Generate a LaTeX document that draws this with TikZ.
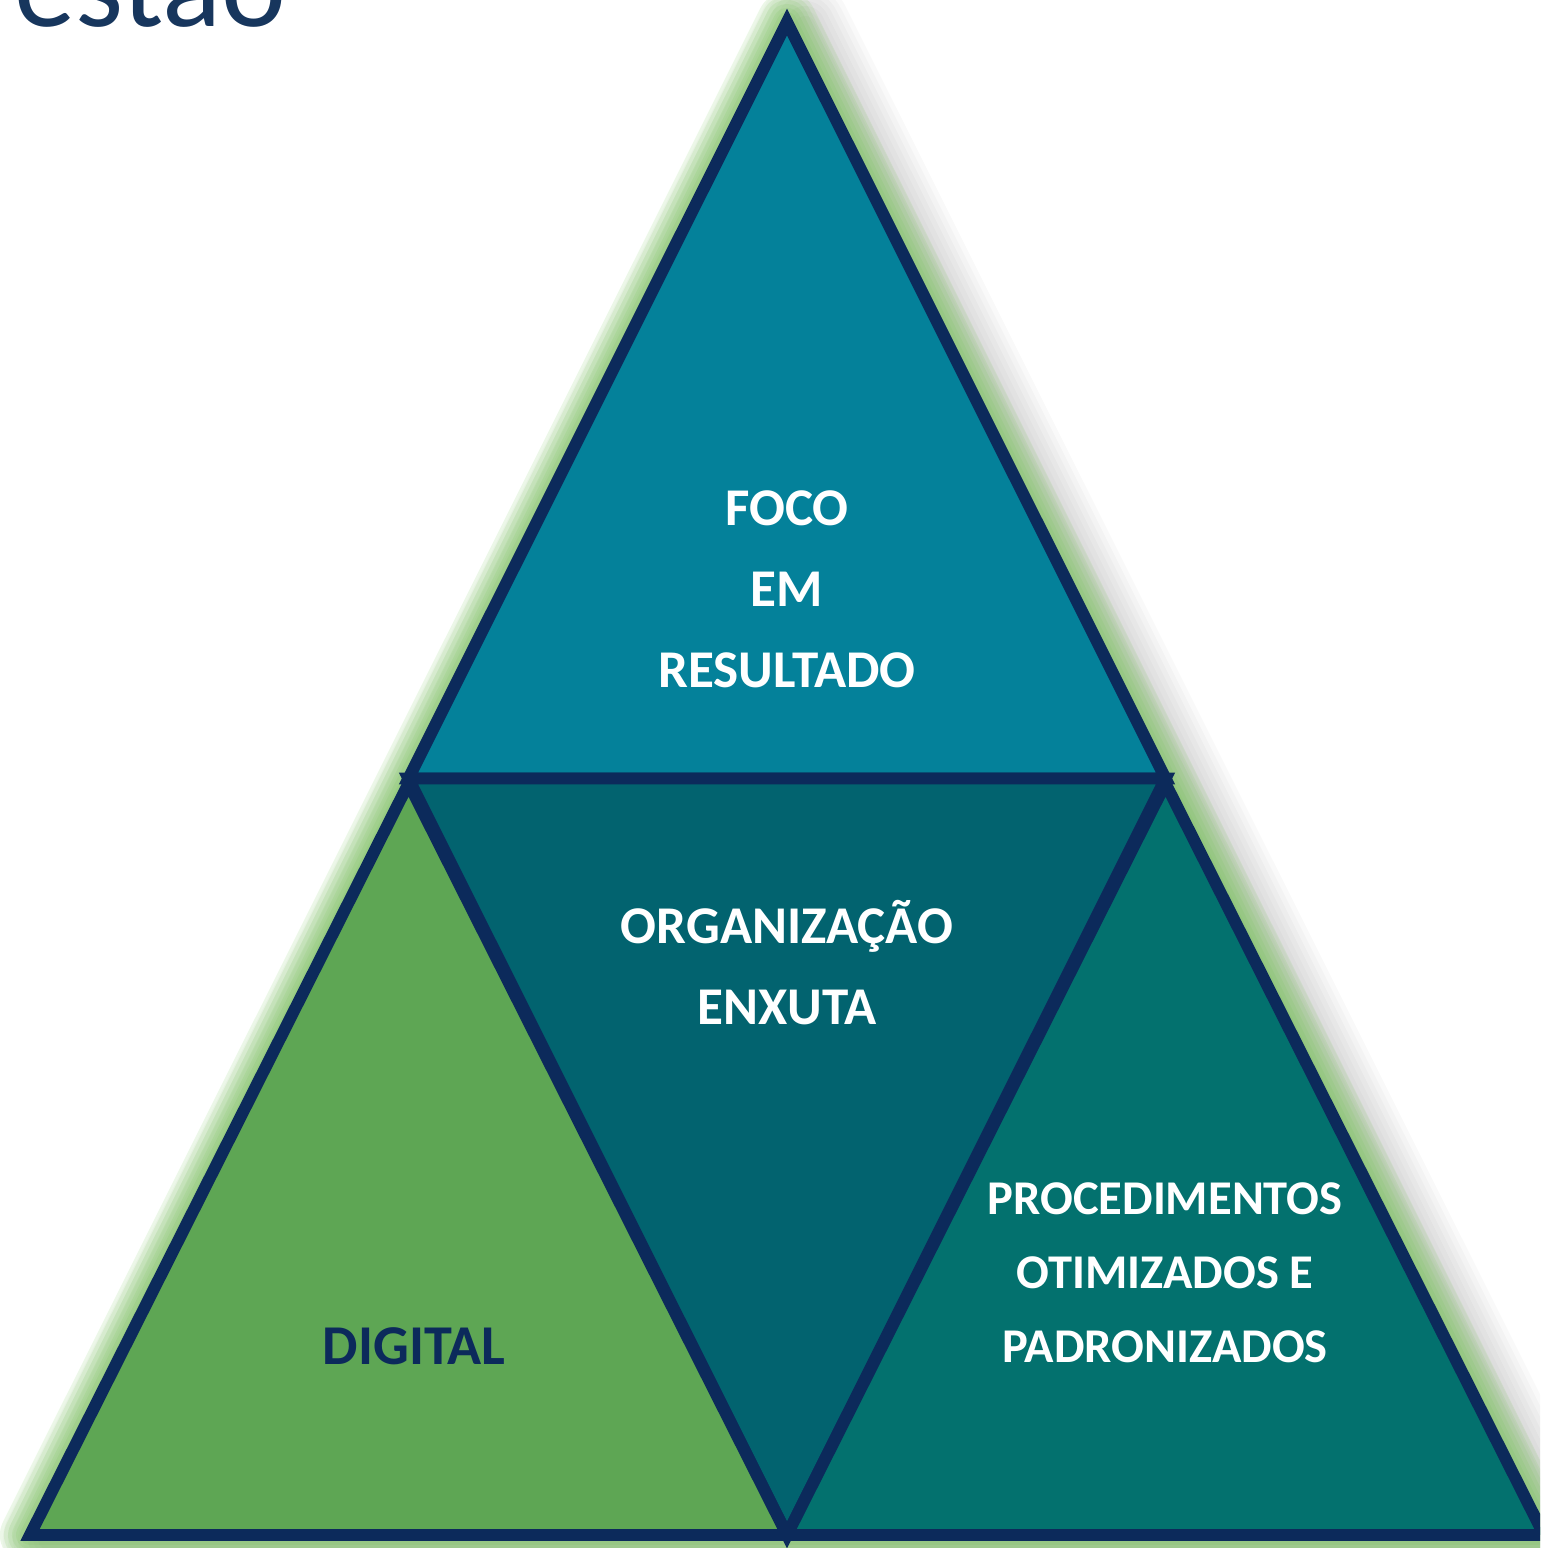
\documentclass[tikz,border=0pt]{standalone}
\usepackage{fontspec}
\setmainfont{Carlito}
\usetikzlibrary{calc}
\definecolor{navyline}{HTML}{0C2A5B}
\definecolor{titleblue}{HTML}{17365D}
\definecolor{topteal}{HTML}{04819A}
\definecolor{midteal}{HTML}{02636F}
\definecolor{rightteal}{HTML}{03716E}
\definecolor{leafgreen}{HTML}{5EA654}
\definecolor{glowgreen}{HTML}{6CC04A}
\tikzset{
  piece/.style={draw=navyline, line width=3.4pt, line join=miter},
  label/.style={font=\fontsize{15.1}{23}\selectfont\bfseries, text=white, align=center},
}
\begin{document}
\begin{tikzpicture}
  \useasboundingbox (0,0) rectangle (15.40,15.48);
  \clip (0,0) rectangle (15.40,15.48);
  % corners of the big triangle
  \coordinate (apex) at (7.87,15.26);
  \coordinate (bl) at (0.30,0.13);
  \coordinate (br) at (15.44,0.13);
  \coordinate (ml) at ($(apex)!0.5!(bl)$);
  \coordinate (mr) at ($(apex)!0.5!(br)$);
  \coordinate (bm) at ($(bl)!0.5!(br)$);
  % title, cut at the top
  \node[anchor=base west, inner sep=0pt, text=titleblue,
        font=\fontsize{35}{40}\selectfont] (title) at (0.14,15.21) {estão};
  % soft shadow and glow
  \foreach \w in {0.9,0.8,...,0.2} {
    \draw[black, opacity=0.025, line width=\w cm, line join=round]
      ([xshift=0.18cm,yshift=-0.04cm]apex) -- ([xshift=0.18cm,yshift=-0.04cm]br)
      -- ([xshift=0.18cm,yshift=-0.04cm]bl) -- cycle;
  }
  \foreach \w in {0.6,0.52,...,0.12} {
    \draw[glowgreen, opacity=0.13, line width=\w cm, line join=round]
      (apex) -- (br) -- (bl) -- cycle;
  }
  % the four pieces
  \filldraw[piece, fill=topteal] (apex) -- (ml) -- (mr) -- cycle;
  \filldraw[piece, fill=midteal] (ml) -- (mr) -- (bm) -- cycle;
  \filldraw[piece, fill=leafgreen] ([yshift=-0.05cm]ml) -- (bm) -- (bl) -- cycle;
  \filldraw[piece, fill=rightteal] ([yshift=-0.05cm]mr) -- (br) -- (bm) -- cycle;
  % labels
  \node[label] (foco) at (7.87,9.59) {FOCO\\EM\\RESULTADO};
  \node[label] (enxuta) at (7.87,5.85) {ORGANIZAÇÃO\\ENXUTA};
  \node[label, font=\fontsize{13.8}{21}\selectfont\bfseries] (proc) at (11.65,2.75)
    {PROCEDIMENTOS\\OTIMIZADOS E\\PADRONIZADOS};
  \node[label, font=\fontsize{16}{20}\selectfont\bfseries, text=navyline]
    (digital) at (4.14,2.02) {DIGITAL};
\end{tikzpicture}
\end{document}
